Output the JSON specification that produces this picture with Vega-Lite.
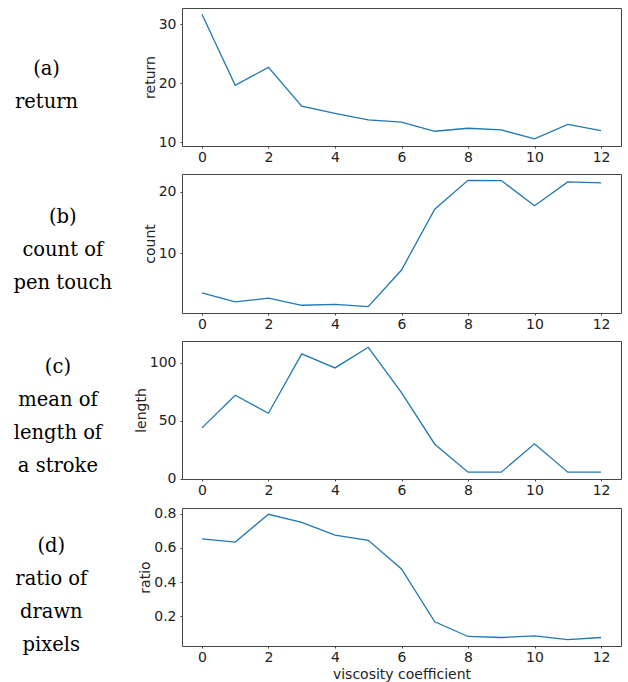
{
  "$schema": "https://vega.github.io/schema/vega-lite/v6.json",
  "padding": {"left": 13, "top": 7, "right": 7, "bottom": 0},
  "data": {"values": [
    {"v": 0, "ret": 31.7, "cnt": 3.55, "len": 43.7, "ratio": 0.653},
    {"v": 1, "ret": 19.66, "cnt": 2.08, "len": 71.8, "ratio": 0.635},
    {"v": 2, "ret": 22.7, "cnt": 2.68, "len": 56.3, "ratio": 0.798},
    {"v": 3, "ret": 16.1, "cnt": 1.53, "len": 107.5, "ratio": 0.751},
    {"v": 4, "ret": 14.9, "cnt": 1.69, "len": 95.4, "ratio": 0.676},
    {"v": 5, "ret": 13.8, "cnt": 1.31, "len": 113.2, "ratio": 0.645},
    {"v": 6, "ret": 13.4, "cnt": 7.27, "len": 74.1, "ratio": 0.477},
    {"v": 7, "ret": 11.85, "cnt": 17.2, "len": 29.6, "ratio": 0.166},
    {"v": 8, "ret": 12.36, "cnt": 21.9, "len": 5.5, "ratio": 0.080},
    {"v": 9, "ret": 12.08, "cnt": 21.86, "len": 5.5, "ratio": 0.074},
    {"v": 10, "ret": 10.56, "cnt": 17.76, "len": 29.9, "ratio": 0.084},
    {"v": 11, "ret": 13.03, "cnt": 21.64, "len": 5.5, "ratio": 0.061},
    {"v": 12, "ret": 11.97, "cnt": 21.48, "len": 5.5, "ratio": 0.074}
  ]},
  "spacing": 8,
  "vconcat": [
    {
      "width": 439, "height": 138,
      "title": {"text": ["(a)", "return"], "orient": "left", "angle": 0, "align": "center", "baseline": "middle", "anchor": "middle", "offset": 33.5, "dy": -8},
      "mark": {"type": "line", "color": "#1f77b4", "strokeWidth": 1.3},
      "encoding": {
        "x": {"field": "v", "type": "quantitative", "scale": {"domain": [-0.6, 12.6], "nice": false, "zero": false}, "axis": {"values": [0, 2, 4, 6, 8, 10, 12], "title": null}},
        "y": {"field": "ret", "type": "quantitative", "scale": {"domain": [9.35, 32.77], "nice": false, "zero": false}, "axis": {"values": [10, 20, 30], "title": "return"}}
      }
    },
    {
      "width": 439, "height": 139,
      "title": {"text": ["(b)", "count of", "pen touch"], "orient": "left", "angle": 0, "align": "center", "baseline": "middle", "anchor": "middle", "offset": -18, "dy": -27},
      "mark": {"type": "line", "color": "#1f77b4", "strokeWidth": 1.3},
      "encoding": {
        "x": {"field": "v", "type": "quantitative", "scale": {"domain": [-0.6, 12.6], "nice": false, "zero": false}, "axis": {"values": [0, 2, 4, 6, 8, 10, 12], "title": null}},
        "y": {"field": "cnt", "type": "quantitative", "scale": {"domain": [0.27, 22.93], "nice": false, "zero": false}, "axis": {"values": [10, 20], "title": "count"}}
      }
    },
    {
      "width": 439, "height": 138,
      "title": {"text": ["(c)", "mean of", "length of", "a stroke"], "orient": "left", "angle": 0, "align": "center", "baseline": "middle", "anchor": "middle", "offset": -12, "dy": -43},
      "mark": {"type": "line", "color": "#1f77b4", "strokeWidth": 1.3},
      "encoding": {
        "x": {"field": "v", "type": "quantitative", "scale": {"domain": [-0.6, 12.6], "nice": false, "zero": false}, "axis": {"values": [0, 2, 4, 6, 8, 10, 12], "title": null}},
        "y": {"field": "len", "type": "quantitative", "scale": {"domain": [-0.4, 118.6], "nice": false, "zero": false}, "axis": {"values": [0, 50, 100], "title": "length"}}
      }
    },
    {
      "width": 439, "height": 138,
      "title": {"text": ["(d)", "ratio of", "drawn", "pixels"], "orient": "left", "angle": 0, "align": "center", "baseline": "middle", "anchor": "middle", "offset": 15.5, "dy": -31},
      "mark": {"type": "line", "color": "#1f77b4", "strokeWidth": 1.3},
      "encoding": {
        "x": {"field": "v", "type": "quantitative", "scale": {"domain": [-0.6, 12.6], "nice": false, "zero": false}, "axis": {"values": [0, 2, 4, 6, 8, 10, 12], "title": "viscosity coefficient"}},
        "y": {"field": "ratio", "type": "quantitative", "scale": {"domain": [0.024, 0.835], "nice": false, "zero": false}, "axis": {"values": [0.2, 0.4, 0.6, 0.8], "format": ".1f", "title": "ratio"}}
      }
    }
  ],
  "config": {
    "view": {"stroke": "#444", "strokeWidth": 1},
    "axis": {"domain": false, "grid": false, "ticks": true, "tickSize": 2, "tickColor": "#444", "labelFont": "DejaVu Sans", "labelFontSize": 14, "labelColor": "#222", "titleFont": "DejaVu Sans", "titleFontSize": 14, "titleFontWeight": "normal", "titleColor": "#222", "labelFlush": false, "labelOverlap": false},
    "axisX": {"labelPadding": 2, "titlePadding": 3},
    "axisY": {"labelPadding": 4, "titlePadding": 1},
    "title": {"font": "DejaVu Serif", "fontSize": 19.5, "fontWeight": "normal", "color": "#000", "lineHeight": 33}
  }
}
